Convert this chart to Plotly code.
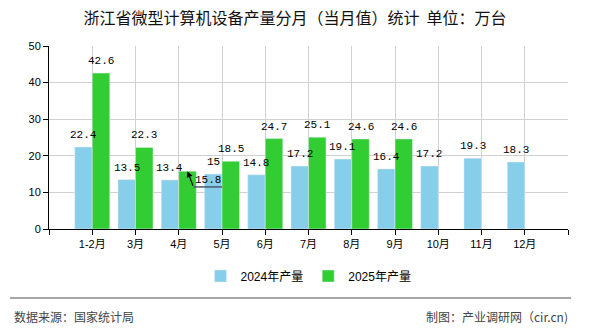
import plotly.graph_objects as go

categories = ["1-2月", "3月", "4月", "5月", "6月", "7月", "8月", "9月", "10月", "11月", "12月"]
values_2024 = [22.4, 13.5, 13.4, 15, 14.8, 17.2, 19.1, 16.4, 17.2, 19.3, 18.3]
values_2025 = [42.6, 22.3, 15.8, 18.5, 24.7, 25.1, 24.6, 24.6]
name_2024 = "2024年产量"
name_2025 = "2025年产量"
color_2024 = "#87CEEB"
color_2025 = "#32CD32"

xpos = list(range(1, len(categories) + 1))
label_font = dict(family="Liberation Mono, DejaVu Sans Mono", size=11, color="#000")
cjk = "Liberation Sans, Noto Sans CJK SC"
bargap = 0.19
half = (1 - bargap) / 4  # offset of each bar centre from category centre

def fmt(v):
    return "%g" % v

fig = go.Figure()
fig.add_trace(go.Bar(x=xpos, y=values_2024, name=name_2024, marker_color=color_2024))
fig.add_trace(go.Bar(x=xpos[:len(values_2025)], y=values_2025, name=name_2025, marker_color=color_2025))

moved_idx = 2  # April 2025 label drawn with leader line

for x, v in zip(xpos, values_2024):
    fig.add_annotation(x=x - half, y=v, xref="x", yref="y", text=fmt(v), showarrow=False,
                       yanchor="bottom", yshift=4, font=label_font)
for i, (x, v) in enumerate(zip(xpos, values_2025)):
    if i == moved_idx:
        continue
    fig.add_annotation(x=x + half, y=v, xref="x", yref="y", text=fmt(v), showarrow=False,
                       yanchor="bottom", yshift=4, font=label_font)

# displaced label with leader line for April 2025
mx = xpos[moved_idx] + half
mv = values_2025[moved_idx]
fig.add_annotation(x=mx, y=mv, xref="x", yref="y",
                   text="", showarrow=True, arrowhead=2, arrowsize=1, arrowwidth=1.2,
                   arrowcolor="#000", ax=6, ay=16, standoff=0)
fig.add_annotation(x=mx, y=mv, xref="x", yref="y",
                   text=fmt(mv), showarrow=False, xshift=20, yshift=-9,
                   font=label_font)
fig.add_shape(type="line", xref="x", yref="y", x0=mx + 0.14, x1=mx + 0.8,
              y0=mv - 4.3, y1=mv - 4.3,
              line=dict(color="#4a5a6a", width=1.5))

# footer
foot_font = dict(family="Noto Sans CJK SC", size=12, color="#444")
fig.add_shape(type="line", xref="paper", yref="paper", x0=-0.075, x1=1.006, y0=-0.377, y1=-0.377,
              line=dict(color="#888", width=1.5))
fig.add_annotation(x=-0.072, y=-0.48, xref="paper", yref="paper", xanchor="left", yanchor="middle",
                   text="数据来源：国家统计局", showarrow=False, font=foot_font)
fig.add_annotation(x=1.004, y=-0.48, xref="paper", yref="paper", xanchor="right", yanchor="middle",
                   text="制图：产业调研网（cir.cn)", showarrow=False, font=foot_font)

fig.update_layout(
    width=590, height=330,
    margin=dict(l=49, r=22, t=46, b=101),
    paper_bgcolor="white", plot_bgcolor="white",
    barmode="group", bargap=bargap, bargroupgap=0,
    title=dict(text="浙江省微型计算机设备产量分月（当月值）统计  单位：万台", x=0.5, xanchor="center",
               y=1 - 18 / 330, yanchor="middle",
               font=dict(family="Noto Sans CJK SC", size=16, color="#111")),
    legend=dict(orientation="h", x=0.5, xanchor="center", y=-0.257, yanchor="middle",
                font=dict(family=cjk, size=12, color="#000"), itemwidth=30,
                bgcolor="rgba(0,0,0,0)"),
    showlegend=True,
    font=dict(family=cjk, size=11, color="#000"),
)
fig.update_xaxes(range=[0, len(categories) + 1], tickmode="array",
                 tickvals=list(range(0, len(categories) + 2)),
                 ticktext=[""] + categories + [""],
                 showgrid=True, gridcolor="#d0d0d0", gridwidth=1,
                 showline=True, linecolor="#000", linewidth=1,
                 ticks="outside", ticklen=5, tickcolor="#000",
                 tickfont=dict(family=cjk, size=11, color="#000"), zeroline=False)
fig.update_yaxes(range=[0, 50], dtick=10, showgrid=True, gridcolor="#d0d0d0", gridwidth=1,
                 showline=True, linecolor="#000", linewidth=1,
                 ticks="outside", ticklen=5, tickcolor="#000",
                 tickfont=dict(family=cjk, size=11, color="#000"), zeroline=False)

fig.write_html("out.html")
